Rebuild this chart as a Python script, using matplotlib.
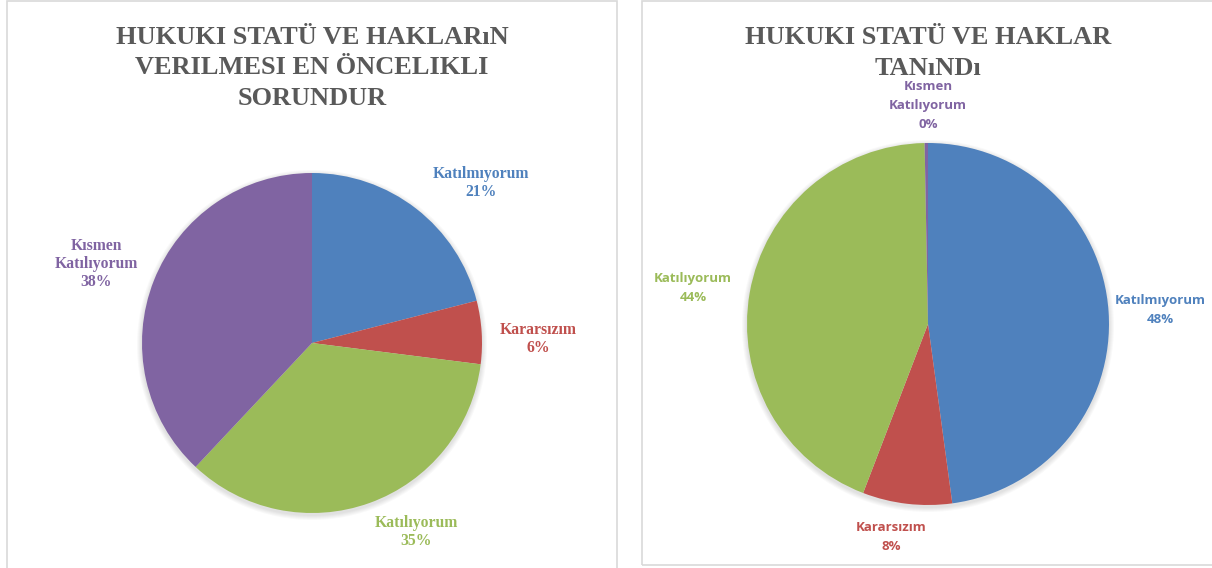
import matplotlib.pyplot as plt
from matplotlib.patches import Rectangle, Circle

# data
labels = ['Katılmıyorum', 'Kararsızım', 'Katılıyorum', 'Kısmen\nKatılıyorum']
left_values = [21, 6, 35, 38]
right_values = [48, 8, 44, 0.3]
colors = ['#4F81BD', '#C0504D', '#9BBB59', '#8064A2']
left_title = 'HUKUKI STATÜ VE HAKLARıN\nVERILMESI EN ÖNCELIKLI\nSORUNDUR'
right_title = 'HUKUKI STATÜ VE HAKLAR\nTANıNDı'

W, H = 1212, 568
fig = plt.figure(figsize=(W / 100, H / 100), dpi=100)
ax = fig.add_axes([0, 0, 1, 1])
ax.set_xlim(0, W)
ax.set_ylim(0, H)
ax.axis('off')

# panel frames
ax.add_patch(Rectangle((7, -10), 610, H + 9, fill=False, ec='#D9D9D9', lw=1.2))
ax.add_patch(Rectangle((642, H - 565), 600, 564, fill=False, ec='#D9D9D9', lw=1.2))


def draw_pie(vals, cx, cy, r, label_off, fam, fsize, lsp):
    tot = sum(vals)
    # soft shadow
    for k in range(1, 6):
        ax.add_patch(Circle((cx, H - cy - 2), r + k, color='k', alpha=0.025, lw=0))
    ax.pie(vals, colors=colors, startangle=90, counterclock=False,
           center=(cx, H - cy), radius=r, wedgeprops=dict(linewidth=0),
           frame=True)
    for lab, v, c, (dx, dy) in zip(labels, vals, colors, label_off):
        pct = '%d%%' % round(100 * v / tot)
        ax.text(cx + dx, H - cy + dy, lab + '\n' + pct, ha='center', va='center',
                color=c, fontsize=fsize, fontweight='bold', family=fam,
                linespacing=lsp)


draw_pie(left_values, 312, 343, 170,
         [(169, 160), (226, 4), (104, -189), (-216, 79)],
         'Liberation Serif', 11.3, 1.2)
draw_pie(right_values, 928, 324, 181,
         [(232, 14), (-37, -213), (-235, 36), (0, 219)],
         'Open Sans', 9.5, 1.6)

ax.set_xlim(0, W)
ax.set_ylim(0, H)
ax.set_aspect('auto')
ax.axis('off')

ax.text(312, H - 68, left_title, ha='center', va='center', color='#595959',
        fontsize=19, fontweight='bold', family='Liberation Serif', linespacing=1.4)
ax.text(928, H - 53, right_title, ha='center', va='center', color='#595959',
        fontsize=19, fontweight='bold', family='Liberation Serif', linespacing=1.4)

fig.savefig('out.png', dpi=100, facecolor='white')
